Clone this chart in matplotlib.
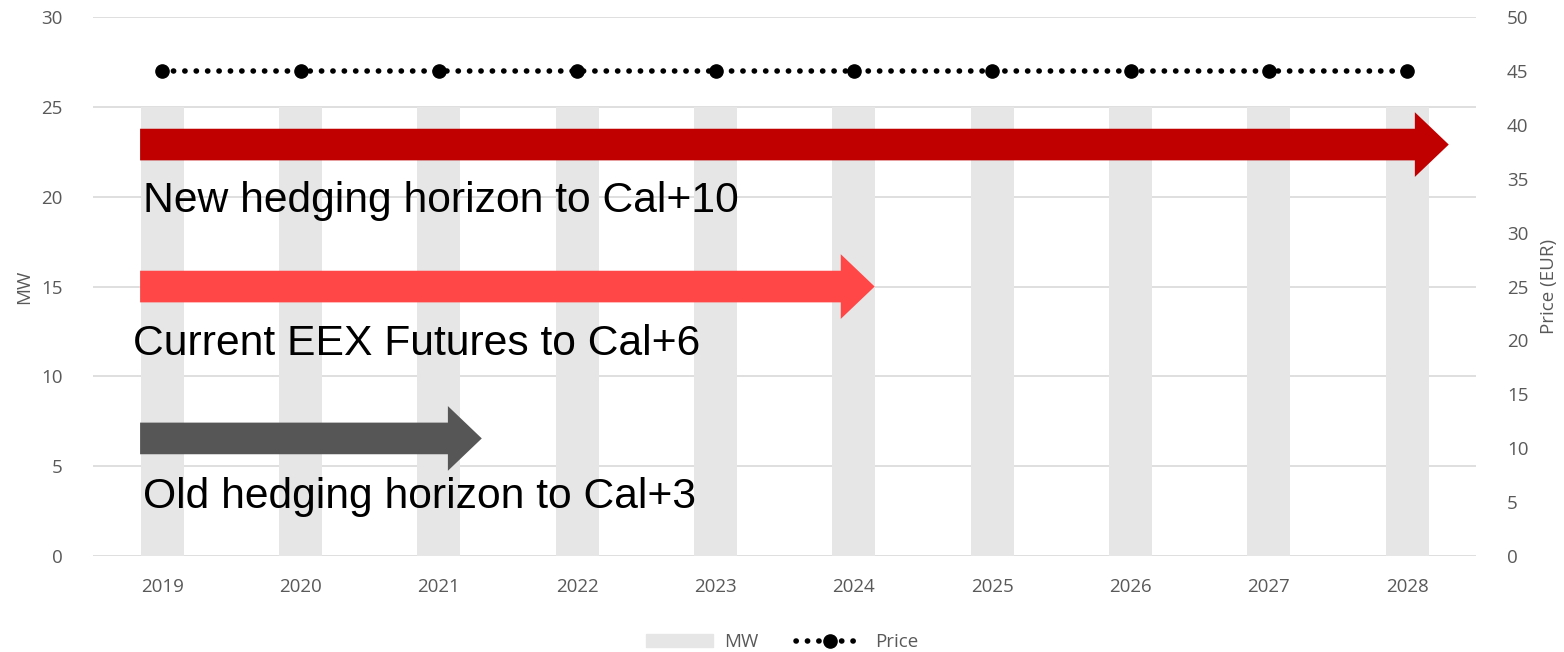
import numpy as np
import matplotlib.pyplot as plt
from matplotlib.patches import Polygon
from matplotlib.lines import Line2D
from matplotlib.patches import Patch

plt.rcParams['font.family'] = ['Open Sans', 'DejaVu Sans']

years = ['2019', '2020', '2021', '2022', '2023', '2024', '2025', '2026', '2027', '2028']
mw = [25, 25, 25, 25, 25, 25, 25, 25, 25, 25]
price = [45, 45, 45, 45, 45, 45, 45, 45, 45, 45]

# horizon arrows: label, last year index reached, vertical centre (MW), colour, label y
arrow_labels = ['New hedging horizon to Cal+10', 'Current EEX Futures to Cal+6', 'Old hedging horizon to Cal+3']
arrow_end = [9.3, 5.15, 2.31]
arrow_y = [22.9, 15.0, 6.55]
arrow_colors = ['#c00000', '#ff4747', '#565656']
label_x = [-0.14, -0.21, -0.14]
label_y = [19.75, 11.8, 3.28]

grey = '#595959'
dots = (0, (0.05, 2.0))
fig, ax = plt.subplots(figsize=(15.64, 6.52), dpi=100)
fig.subplots_adjust(left=0.0595, right=0.944, top=0.974, bottom=0.147)

x = np.arange(len(years))
ax.bar(x, mw, width=0.31, color='#e6e6e6', zorder=1)
ax.set_xlim(-0.5, 9.5)
ax.set_ylim(0, 30)
ax.set_yticks(range(0, 31, 5))
ax.grid(axis='y', color='#d9d9d9', lw=1.2, zorder=0)
ax.set_axisbelow(True)
for s in ax.spines.values():
    s.set_visible(False)
ax.set_xticks(x)
ax.set_xticklabels(years)
ax.tick_params(length=0, colors=grey, labelsize=13.5, pad=16)
ax.tick_params(axis='y', pad=22)
ax.set_ylabel('MW', color=grey, fontsize=13.5, labelpad=6)

ax2 = ax.twinx()
ax2.set_ylim(0, 50)
ax2.set_yticks(range(0, 51, 5))
for s in ax2.spines.values():
    s.set_visible(False)
ax2.tick_params(length=0, colors=grey, labelsize=13.5, pad=22)
ax2.set_ylabel('Price (EUR)', color=grey, fontsize=13.5, labelpad=8)
ax2.plot(x, price, ls=dots, lw=4, color='black', dash_capstyle='round',
         marker='o', ms=9.5, zorder=3)

# arrows drawn in MW data coords
start = -0.16
for lab, end, yc, col, lx, ly in zip(arrow_labels, arrow_end, arrow_y, arrow_colors, label_x, label_y):
    hb = end - 0.245
    pts = [(start, yc + 0.88), (hb, yc + 0.88), (hb, yc + 1.8), (end, yc),
           (hb, yc - 1.8), (hb, yc - 0.88), (start, yc - 0.88)]
    ax.add_patch(Polygon(pts, closed=True, color=col, lw=0, zorder=4))
    ax.text(lx, ly, lab, fontsize=30.7, family=['Liberation Sans', 'DejaVu Sans'],
            va='center', ha='left', color='black', zorder=5)

handles = [Patch(color='#e6e6e6', label='MW'),
           Line2D([0], [0], ls=dots, lw=4, color='black', marker='o', ms=9.5,
                  dash_capstyle='round', label='Price')]
fig.legend(handles=handles, loc='lower center', ncol=2, frameon=False, fontsize=13.5,
           labelcolor=grey, bbox_to_anchor=(0.5, -0.025), handlelength=3.6, columnspacing=2,
           handletextpad=0.6)

fig.savefig('out.png', dpi=100)
